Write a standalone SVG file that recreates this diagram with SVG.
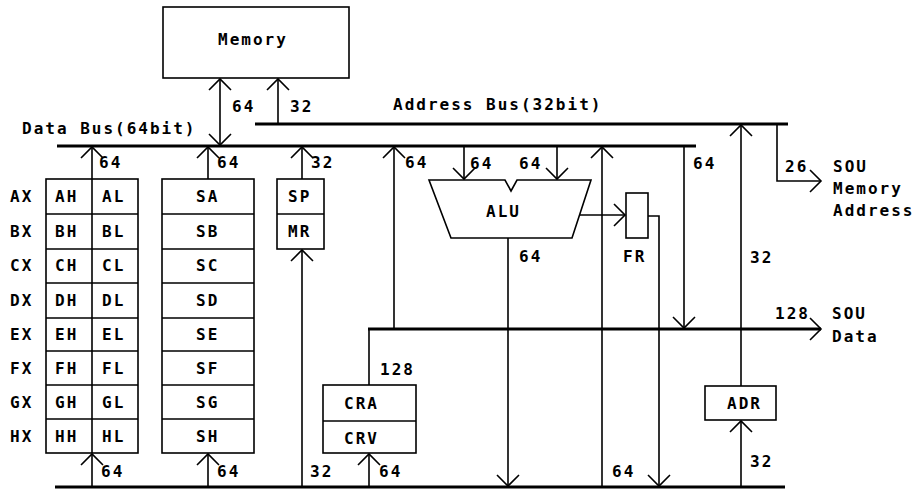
<svg xmlns="http://www.w3.org/2000/svg" width="920" height="491" viewBox="0 0 920 491">
<defs>
<marker id="v" viewBox="-13 -13 15 26" refX="0" refY="0" markerWidth="15" markerHeight="26" markerUnits="userSpaceOnUse" orient="auto-start-reverse">
<path d="M-11,-11 L0,0 L-11,11" fill="none" stroke="#000" stroke-width="1.6"/>
</marker>
</defs>
<style>
text{font-family:"DejaVu Sans Mono","Liberation Mono",monospace;font-weight:bold;font-size:16px;letter-spacing:2px;fill:#000}
.box{fill:#fff;stroke:#000;stroke-width:1.6}
.ln{fill:none;stroke:#000;stroke-width:1.6}
.bus{fill:none;stroke:#000;stroke-width:3}
</style>
<rect width="920" height="491" fill="#fff"/>

<g id="connectors">
<line class="bus" x1="57" y1="146" x2="696" y2="146"/>
<line class="bus" x1="255" y1="124" x2="788" y2="124"/>
<line class="bus" x1="55" y1="487" x2="785" y2="487"/>
<line class="ln" x1="220" y1="145" x2="220" y2="79" marker-start="url(#v)" marker-end="url(#v)"/>
<line class="ln" x1="278" y1="124" x2="278" y2="79" marker-end="url(#v)"/>
<line class="ln" x1="92" y1="179" x2="92" y2="147" marker-end="url(#v)"/>
<line class="ln" x1="92" y1="486" x2="92" y2="454" marker-end="url(#v)"/>
<line class="ln" x1="208" y1="179" x2="208" y2="147" marker-end="url(#v)"/>
<line class="ln" x1="208" y1="486" x2="208" y2="454" marker-end="url(#v)"/>
<line class="ln" x1="302" y1="179" x2="302" y2="147" marker-end="url(#v)"/>
<line class="ln" x1="302" y1="486" x2="302" y2="250" marker-end="url(#v)"/>
<line class="ln" x1="394" y1="329" x2="394" y2="147" marker-end="url(#v)"/>
<line class="ln" x1="464" y1="146" x2="464" y2="179" marker-end="url(#v)"/>
<line class="ln" x1="557" y1="146" x2="557" y2="179" marker-end="url(#v)"/>
<line class="ln" x1="578" y1="215" x2="625" y2="215" marker-end="url(#v)"/>
<path class="ln" d="M648,216 H659 V486" marker-end="url(#v)"/>
<line class="ln" x1="508" y1="238" x2="508" y2="486" marker-end="url(#v)"/>
<line class="ln" x1="602" y1="487" x2="602" y2="147" marker-end="url(#v)"/>
<line class="ln" x1="684" y1="146" x2="684" y2="328" marker-end="url(#v)"/>
<line class="ln" x1="369" y1="385" x2="369" y2="329"/>
<line class="bus" x1="368" y1="329" x2="821" y2="329" marker-end="url(#v)"/>
<line class="ln" x1="369" y1="486" x2="369" y2="454" marker-end="url(#v)"/>
<line class="ln" x1="741" y1="386" x2="741" y2="125" marker-end="url(#v)"/>
<line class="ln" x1="741" y1="486" x2="741" y2="421" marker-end="url(#v)"/>
<path class="ln" d="M777,124 V181 H821" marker-end="url(#v)"/>
<text x="22" y="134">Data Bus(64bit)</text>
<text x="393" y="110">Address Bus(32bit)</text>
<text x="232" y="112">64</text>
<text x="290" y="112">32</text>
<text x="99" y="168">64</text>
<text x="217" y="168">64</text>
<text x="311" y="168">32</text>
<text x="405" y="168">64</text>
<text x="470" y="169">64</text>
<text x="519" y="169">64</text>
<text x="693" y="169">64</text>
<text x="785" y="172">26</text>
<text x="833" y="172">SOU</text>
<text x="833" y="194">Memory</text>
<text x="833" y="216">Address</text>
<text x="519" y="262">64</text>
<text x="750" y="263">32</text>
<text x="775" y="319">128</text>
<text x="832" y="319">SOU</text>
<text x="832" y="342">Data</text>
<text x="380" y="375">128</text>
<text x="101" y="477">64</text>
<text x="217" y="477">64</text>
<text x="310" y="477">32</text>
<text x="379" y="477">64</text>
<text x="612" y="477">64</text>
<text x="750" y="467">32</text>
</g>

<g id="memory">
<rect class="box" x="163" y="7" width="186" height="71"/>
<text x="218" y="45">Memory</text>
</g>

<g id="general-registers">
<rect class="box" x="46" y="179" width="92" height="274"/>
<line class="ln" x1="92" y1="179" x2="92" y2="453"/>
<path class="ln" d="M46,214 H138 M46,249 H138 M46,283 H138 M46,318 H138 M46,351 H138 M46,385 H138 M46,419 H138"/>
<text x="10" y="202">AX</text><text x="55" y="202">AH</text><text x="102" y="202">AL</text>
<text x="10" y="237">BX</text><text x="55" y="237">BH</text><text x="102" y="237">BL</text>
<text x="10" y="271">CX</text><text x="55" y="271">CH</text><text x="102" y="271">CL</text>
<text x="10" y="306">DX</text><text x="55" y="306">DH</text><text x="102" y="306">DL</text>
<text x="10" y="340">EX</text><text x="55" y="340">EH</text><text x="102" y="340">EL</text>
<text x="10" y="374">FX</text><text x="55" y="374">FH</text><text x="102" y="374">FL</text>
<text x="10" y="408">GX</text><text x="55" y="408">GH</text><text x="102" y="408">GL</text>
<text x="10" y="442">HX</text><text x="55" y="442">HH</text><text x="102" y="442">HL</text>
</g>

<g id="segment-registers">
<rect class="box" x="162" y="179" width="92" height="274"/>
<path class="ln" d="M162,214 H254 M162,249 H254 M162,283 H254 M162,318 H254 M162,351 H254 M162,385 H254 M162,419 H254"/>
<text x="196" y="202">SA</text>
<text x="196" y="237">SB</text>
<text x="196" y="271">SC</text>
<text x="196" y="306">SD</text>
<text x="196" y="340">SE</text>
<text x="196" y="374">SF</text>
<text x="196" y="408">SG</text>
<text x="196" y="442">SH</text>
</g>

<g id="sp-mr">
<rect class="box" x="277" y="179" width="47" height="70"/>
<line class="ln" x1="277" y1="214" x2="324" y2="214"/>
<text x="288" y="202">SP</text>
<text x="288" y="237">MR</text>
</g>

<g id="alu">
<polygon class="box" points="429,180 505,180 511,191 517,180 591,180 572,238 451,238"/>
<text x="486" y="217">ALU</text>
</g>

<g id="fr">
<rect class="box" x="626" y="193" width="22" height="45"/>
<text x="623" y="262">FR</text>
</g>

<g id="cra-crv">
<rect class="box" x="323" y="385" width="93" height="68"/>
<line class="ln" x1="323" y1="421" x2="416" y2="421"/>
<text x="344" y="409">CRA</text>
<text x="344" y="444">CRV</text>
</g>

<g id="adr">
<rect class="box" x="705" y="386" width="71" height="34"/>
<text x="727" y="409">ADR</text>
</g>
</svg>
